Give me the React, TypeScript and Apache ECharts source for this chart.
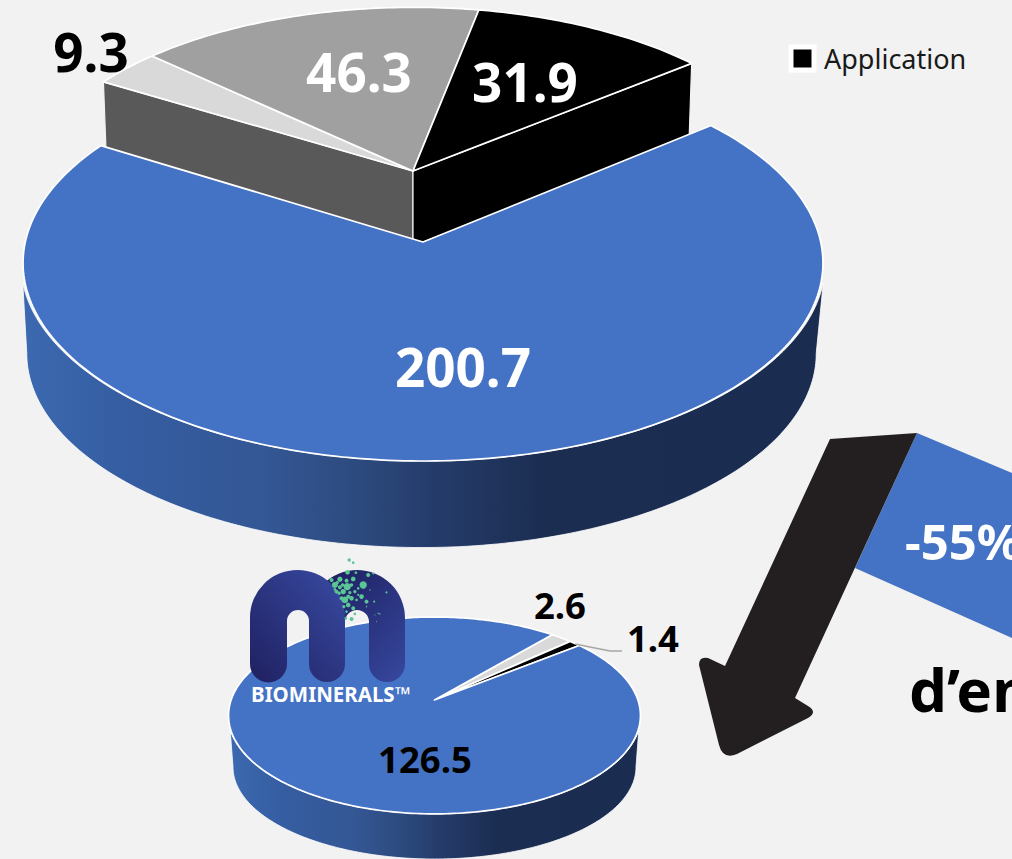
import React, { useEffect, useRef } from "react";
import * as echarts from "echarts";

// ---- data ----
const bigCategories = ["Application A", "Application B", "Application C", "Application D"];
const bigValues = [200.7, 9.3, 46.3, 31.9];
const smallValues = [126.5, 2.6, 1.4];
const legendLabels = ["Application"];
const reductionLabel = "-55%";
const footprintLabel = "d’empreinte";
const brandLabel = "BIOMINERALS™";

// ---- layout and styles ----
const FONT = '"Noto Sans", "Open Sans", sans-serif';
const BLUE = "#4472c4";
type Plane = { cx: number; cy: number; a: number; b: number; k: number; apexX?: number };

const BIG_TOP: Plane = { cx: 423, cy: 242, a: 397.7, b: 195.8, k: 0.106 };
const BIG_WALL_TOP: Plane = { cx: 423, cy: 242, a: 400, b: 195.8, k: 0.106 };
const BIG_BOTTOM: Plane = { cx: 421.5, cy: 333, a: 392.5, b: 191.8, k: 0.106 };
const REST_TOP: Plane = { cx: 414, cy: 171, a: 383.5, b: 181, k: 0.106, apexX: 413 };
const REST_BOTTOM: Plane = { cx: 414, cy: 246, a: 380, b: 181, k: 0.106, apexX: 413 };
const SMALL_TOP: Plane = { cx: 434.5, cy: 700, a: 203.4, b: 96, k: 0.157 };
const SMALL_WALL_TOP: Plane = { cx: 434.5, cy: 700, a: 204, b: 96, k: 0.157 };
const SMALL_BOTTOM: Plane = { cx: 434.5, cy: 752.6, a: 199, b: 89.7, k: 0.157 };

const wallGradient = {
  type: "linear", x: 0, y: 0, x2: 1, y2: 0,
  colorStops: [
    { offset: 0, color: "#3c69b0" },
    { offset: 0.13, color: "#355da1" },
    { offset: 0.3, color: "#345795" },
    { offset: 0.42, color: "#2c4a7e" },
    { offset: 0.51, color: "#253c6b" },
    { offset: 0.65, color: "#1b2d51" },
    { offset: 1, color: "#1a2c50" },
  ],
};

const project = (deg: number, p: Plane): number[] => {
  const t = (deg * Math.PI) / 180;
  const s = Math.sin(t);
  const c = Math.cos(t);
  const w = 1 + p.k * s;
  return [p.cx + (p.a * c) / w, p.cy - (p.b * s) / w];
};

const rim = (from: number, to: number, p: Plane): number[][] => {
  const n = Math.max(2, Math.ceil(Math.abs(to - from)));
  const pts: number[][] = [];
  for (let i = 0; i <= n; i++) pts.push(project(from + ((to - from) * i) / n, p));
  return pts;
};

const apex = (p: Plane): number[] => [p.apexX ?? p.cx, p.cy];

type PieStyle = {
  startDeg: number;
  tops: Plane[];
  bottoms: Plane[];
  colors: string[];
  sideColors: (string | null)[];
  cutFaces: ("start" | "end" | null)[];
  wallIndex: number;
  wallTop: Plane;
  wallTopDeg: number[];
  wallBottomDeg: number[];
  labelColors: string[];
  labelSize: number;
  labelAt: number[][];
};

const makeRenderer = (values: number[], st: PieStyle) => {
  const total = values.reduce((x, y) => x + y, 0);
  return (params: any, api: any) => {
    const i = params.dataIndex;
    const v = api.value(0);
    let before = 0;
    for (let j = 0; j < i; j++) before += values[j];
    const a0 = st.startDeg - (before / total) * 360;
    const a1 = a0 - (v / total) * 360;
    const top = st.tops[i];
    const bot = st.bottoms[i];
    const children: any[] = [];
    const base = i === st.wallIndex ? 20 : 1;

    if (i === st.wallIndex) {
      children.push({
        type: "polygon", z2: base,
        shape: {
          points: [
            ...rim(st.wallTopDeg[0], st.wallTopDeg[1], st.wallTop),
            ...rim(st.wallBottomDeg[1], st.wallBottomDeg[0], bot),
          ],
        },
        style: { fill: wallGradient, stroke: "#ffffff", lineWidth: 0.8 },
      });
    }
    const cut = st.cutFaces[i];
    if (cut) {
      const ang = cut === "start" ? a0 : a1;
      const pA = project(ang, top);
      const pB = project(ang, bot);
      children.push({
        type: "polygon", z2: base,
        shape: { points: [apex(top), pA, pB, apex(bot)] },
        style: { fill: st.sideColors[i], stroke: "#f2f2f2", lineWidth: 1.2 },
      });
    }
    children.push({
      type: "polygon", z2: base + 1,
      shape: { points: [apex(top), ...rim(a0, a1, top)] },
      style: { fill: st.colors[i], stroke: "#ffffff", lineWidth: 1.7, lineJoin: "round" },
    });
    children.push({
      type: "text", z2: 50,
      style: {
        text: String(v), x: st.labelAt[i][0], y: st.labelAt[i][1],
        fill: st.labelColors[i], font: `bold ${st.labelSize}px ${FONT}`,
        align: "center", verticalAlign: "middle",
      },
    });
    return { type: "group", children };
  };
};

const ARROW_D =
  "M917 433 L830 439 L725 666 L708 658 Q699 656 699 665 L719 745 Q723 760 737 754 L808 718 Q818 712 808 706 L795 698 Z";
const ARCH_FRONT_D =
  "M250 617.5 A47.5 47.5 0 0 1 345 617.5 L345 664 A18 18 0 0 1 309 664 L309 621 A11 11 0 0 0 287 621 L287 664 A18.5 18.5 0 0 1 250 664 Z";
const ARCH_BACK_D =
  "M309 618 A48 48 0 0 1 405 618 L405 664 A18 18 0 0 1 369 664 L369 622 A12 12 0 0 0 345 622 L345 640 L309 640 Z";
echarts.graphic.registerShape("bigArrow", echarts.graphic.extendPath(ARROW_D, {}) as any);
echarts.graphic.registerShape("archFront", echarts.graphic.extendPath(ARCH_FRONT_D, {}) as any);
echarts.graphic.registerShape("archBack", echarts.graphic.extendPath(ARCH_BACK_D, {}) as any);

// logo speckles: x, y, r in a 3x local space
const speckles = [
  [388, 30, 5], [400, 38, 4], [383, 67, 7], [408, 68, 4], [445, 75, 6], [460, 70, 3], [430, 105, 11],
  [400, 87, 7], [360, 88, 8], [335, 90, 6], [380, 92, 6], [345, 105, 9], [382, 110, 11], [360, 112, 6],
  [415, 115, 4], [370, 125, 8], [405, 125, 5], [425, 140, 7], [440, 155, 6], [463, 155, 3], [500, 127, 3],
  [450, 120, 2], [375, 150, 10], [395, 145, 7], [410, 150, 4], [385, 165, 7], [400, 175, 6], [380, 185, 4],
  [395, 207, 6], [405, 192, 4], [378, 205, 4], [475, 190, 2], [480, 192, 2], [440, 170, 2], [470, 215, 1.5],
  [465, 195, 1.5], [350, 125, 6], [358, 130, 5], [365, 145, 6], [372, 170, 5], [390, 128, 5], [352, 98, 5],
  [368, 105, 5], [395, 105, 5], [385, 140, 6], [345, 118, 4], [415, 135, 3],
];

const bigRenderer = makeRenderer(bigValues, {
  startDeg: 39.4,
  tops: [BIG_TOP, REST_TOP, REST_TOP, REST_TOP],
  bottoms: [BIG_BOTTOM, REST_BOTTOM, REST_BOTTOM, REST_BOTTOM],
  colors: [BLUE, "#d9d9d9", "#a0a0a0", "#000000"],
  sideColors: [null, "#595959", null, "#000000"],
  cutFaces: [null, "start", null, "end"],
  wallIndex: 0,
  wallTop: BIG_WALL_TOP,
  wallTopDeg: [191.8, 348.2],
  wallBottomDeg: [186, 354],
  labelColors: ["#ffffff", "#000000", "#ffffff", "#ffffff"],
  labelSize: 53,
  labelAt: [[463, 366], [91, 51], [359, 71], [525, 81]],
});

const smallRenderer = makeRenderer(smallValues, {
  startDeg: 38.6,
  tops: [SMALL_TOP, SMALL_TOP, SMALL_TOP],
  bottoms: [SMALL_BOTTOM, SMALL_BOTTOM, SMALL_BOTTOM],
  colors: [BLUE, "#d9d9d9", "#000000"],
  sideColors: [null, null, null],
  cutFaces: [null, null, null],
  wallIndex: 0,
  wallTop: SMALL_WALL_TOP,
  wallTopDeg: [197.3, 342.7],
  wallBottomDeg: [189, 351],
  labelColors: ["#000000", "#000000", "#000000"],
  labelSize: 36.5,
  labelAt: [[425, 759], [560, 605], [653, 638]],
});

const buildOption = (): any => ({
  animation: false,
  backgroundColor: "#f2f2f2",
  legend: {
    left: 783.5,
    top: 39.5,
    padding: 5,
    itemWidth: 23,
    itemHeight: 23,
    itemGap: 0,
    selectedMode: false,
    data: [
      {
        name: legendLabels[0],
        icon: "rect",
        itemStyle: { color: "#000000", borderColor: "#ffffff", borderWidth: 5 },
      },
    ],
    textStyle: { fontFamily: FONT, fontSize: 27, color: "#1a1a1a", padding: [0, 0, 8, 5] },
  },
  series: [
    {
      type: "custom",
      name: legendLabels[0],
      coordinateSystem: "none",
      silent: true,
      z: 2,
      renderItem: bigRenderer,
      data: bigValues.map((v, i) => ({ name: bigCategories[i], value: [v] })),
    },
    {
      type: "custom",
      name: "Biominerals",
      coordinateSystem: "none",
      silent: true,
      z: 3,
      renderItem: smallRenderer,
      data: smallValues.map((v) => ({ value: [v] })),
    },
  ],
  graphic: {
    elements: [
      {
        type: "polygon", z: 10, silent: true,
        shape: { points: [[917, 433], [1012, 473], [1012, 638], [855, 568]] },
        style: { fill: BLUE },
      },
      { type: "bigArrow", z: 11, silent: true, x: 0, y: 0, style: { fill: "#231f20" } },
      {
        type: "text", z: 12, silent: true,
        style: { text: reductionLabel, x: 905, y: 541, fill: "#ffffff", font: `bold 49px ${FONT}`, align: "left", verticalAlign: "middle" },
      },
      {
        type: "text", z: 12, silent: true,
        style: { text: footprintLabel, x: 909, y: 689, fill: "#000000", font: `bold 60px ${FONT}`, align: "left", verticalAlign: "middle" },
      },
      {
        type: "polyline", z: 12, silent: true,
        shape: { points: [[575, 644], [610, 651], [622, 651]] },
        style: { stroke: "#a6a6a6", lineWidth: 1.5, fill: "none" },
      },
      {
        type: "archBack", z: 13, silent: true, x: 0, y: 0,
        style: {
          fill: new echarts.graphic.LinearGradient(0, 0, 1, 1, [
            { offset: 0, color: "#1b1b58" },
            { offset: 1, color: "#37489f" },
          ]),
        },
      },
      {
        type: "archFront", z: 14, silent: true, x: 0, y: 0,
        style: {
          fill: new echarts.graphic.LinearGradient(0, 1, 1, 0, [
            { offset: 0, color: "#1f2060" },
            { offset: 1, color: "#394ba3" },
          ]),
        },
      },
      {
        type: "group", z: 15, silent: true, x: 220, y: 550, scaleX: 1 / 3, scaleY: 1 / 3,
        children: speckles.map(([x, y, r]) => ({
          type: "circle", z: 15, silent: true,
          shape: { cx: x, cy: y, r },
          style: { fill: "#5cc596" },
        })),
      },
      {
        type: "text", z: 16, silent: true,
        style: { text: brandLabel, x: 251, y: 694, fill: "#ffffff", font: `bold 20.5px ${FONT}`, align: "left", verticalAlign: "middle" },
      },
    ],
  },
});

export default function App() {
  const ref = useRef<HTMLDivElement>(null);
  useEffect(() => {
    document.body.style.margin = "0";
    document.body.style.overflow = "hidden";
    const chart = echarts.init(ref.current!, undefined, { renderer: "svg" });
    chart.setOption(buildOption());
    return () => chart.dispose();
  }, []);
  return <div ref={ref} style={{ width: 1012, height: 859 }} />;
}
